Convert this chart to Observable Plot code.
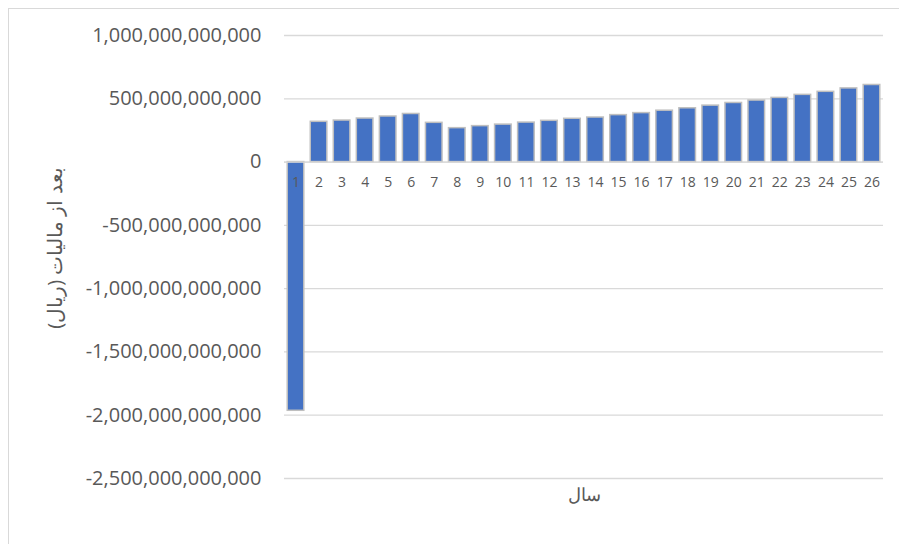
<!DOCTYPE html>
<html>
<head>
<meta charset="utf-8">
<script src="https://cdn.jsdelivr.net/npm/d3@7"></script>
<script src="https://cdn.jsdelivr.net/npm/@observablehq/plot@0.6"></script>
<style>
  html, body { margin: 0; padding: 0; background: #fff; overflow: hidden; }
  #frame { position: absolute; left: 8px; top: 8px; width: 1000px; height: 700px;
           border-left: 1.5px solid #d9d9d9; border-top: 1.5px solid #d9d9d9; }
  #chart { position: absolute; left: 0; top: 0; }
</style>
</head>
<body>
<div id="frame"></div>
<div id="chart"></div>
<script>
const years = d3.range(1, 27).map(String);
const cashFlow = [
  -1965e9, 318e9, 328e9, 344e9, 360e9, 380e9, 310e9, 268e9, 284e9, 296e9,
  312e9, 326e9, 342e9, 352e9, 371e9, 387e9, 406e9, 425e9, 446e9, 467e9,
  486e9, 507e9, 531e9, 555e9, 582e9, 609e9
];
const yTicks = [1e12, 5e11, 0, -5e11, -1e12, -1.5e12, -2e12, -2.5e12];
const yTitle = "بعد از مالیات (ریال)";
const xTitle = "سال";

const data = years.map((y, i) => ({year: y, value: cashFlow[i]}));
const fmt = d => d3.format(",.0f")(d).replace("\u2212", "-");
const font = "'Open Sans', 'Noto Sans', sans-serif";

const chart = Plot.plot({
  width: 899,
  height: 544,
  marginLeft: 284,
  marginRight: 16,
  marginTop: 35,
  marginBottom: 66,
  style: {fontFamily: font, background: "transparent", overflow: "visible"},
  x: {type: "band", domain: years, paddingInner: 0.28, paddingOuter: 0.14, round: false, axis: null},
  y: {domain: [-2.5e12, 1e12], axis: null},
  marks: [
    Plot.gridY(yTicks, {stroke: "#d9d9d9", strokeOpacity: 1, strokeWidth: 1.3}),
    Plot.axisY(yTicks, {tickSize: 0, tickPadding: 23, tickFormat: fmt, fontSize: 20,
      fill: "#595959", label: null}),
    Plot.barY(data, {x: "year", y: "value", fill: "#4472C4", stroke: "#bfbfbf", strokeWidth: 1.5}),
    Plot.ruleY([0], {stroke: "#d9d9d9", strokeWidth: 1.3}),
    Plot.text(data, {x: "year", y: () => 0, text: "year", dy: 20, fontSize: 14, fill: "#595959"}),
    Plot.text([xTitle], {frameAnchor: "bottom", dy: 22, fontSize: 18, fill: "#595959"}),
    Plot.text([yTitle], {frameAnchor: "left", textAnchor: "middle", dx: -229, dy: -9, rotate: -90,
      fontSize: 20, fill: "#595959"})
  ]
});
document.getElementById("chart").appendChild(chart);
</script>
</body>
</html>
